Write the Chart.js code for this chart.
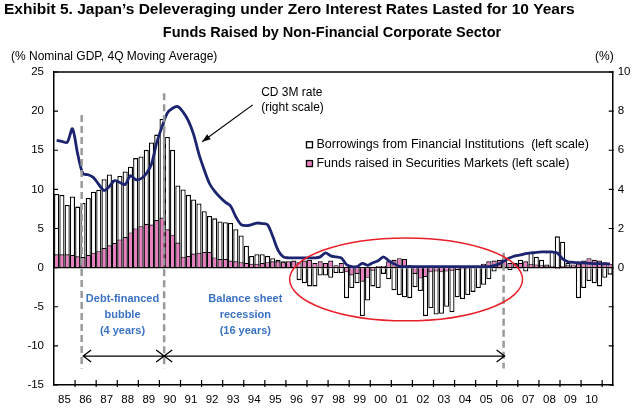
<!DOCTYPE html>
<html lang="en">
<head>
  <meta charset="UTF-8">
  <title>Japan's Deleveraging under Zero Interest Rates</title>
  <script src="https://cdn.jsdelivr.net/npm/chart.js"></script>
  <style>
    body { margin: 0; background: #fff; }
    #wrap { width: 640px; height: 414px; position: relative; }
  </style>
</head>
<body>
  <div id="wrap"><canvas id="myChart"></canvas></div>

  <script>
    // tick labels along the bottom (one per year, 1985..2010)
    const yearLabels = ['85','86','87','88','89','90','91','92','93','94','95','96','97',
                        '98','99','00','01','02','03','04','05','06','07','08','09','10']

    // quarterly, 1985Q1 .. 2011Q2, % of nominal GDP (left scale)
    const borrowings = [
      9.4, 9.3, 8.0, 9.1,   7.8, 8.25, 8.9, 9.7,   9.95, 11.3, 11.9, 11.2,   11.7, 12.3, 12.9, 14.0,
      14.2, 15.05, 16.0, 17.0,   19.0, 16.7, 15.05, 10.5,   10.0, 9.3, 8.7, 8.2,   7.2, 6.6, 6.3, 5.9,
      5.8, 5.7, 4.9, 4.1,   2.8, 1.5, 1.7, 1.7,   1.5, 1.2, 1.0, 0.8,   0.5, 0.8, -1.6, -2.0,
      -2.4, -2.4, -1.0, -1.0,   -1.3, -0.7, -0.7, -3.9,   -2.6, -2.0, -6.2, -4.2,   -2.4, -2.6, -0.8, -1.5,
      -2.9, -3.5, -3.8, -3.9,   -2.5, -3.0, -6.2, -5.2,   -6.0, -5.9, -5.0, -5.7,   -3.8, -4.0, -3.5, -3.1,
      -2.6, -2.2, -1.5, -0.5,   0.3, 0.5, -0.3, 0.6,   1.0, -0.5, 1.9, 1.4,   1.0, 0.4, 2.1, 4.0,
      3.3, 0.6, 0.2, -3.9,   -2.6, -1.7, -2.0, -2.4,   -1.3, -0.9
    ]
    const securities = [
      1.7, 1.7, 1.7, 1.6,   1.45, 1.35, 1.6, 1.9,   2.1, 2.5, 2.85, 3.15,   3.6, 3.9, 4.5, 5.0,
      5.3, 5.6, 5.5, 6.1,   6.4, 4.9, 4.2, 3.2,   1.4, 1.5, 1.8, 1.9,   2.0, 2.0, 1.3, 1.1,
      1.1, 0.9, 0.8, 0.7,   0.6, 0.5, 0.5, 0.6,   0.7, 0.8, 0.8, 0.7,   0.8, 0.9, 0.7, 0.9,
      1.0, 0.6, 0.8, 0.6,   0.9, 0.3, 0.6, -0.6,   -1.0, -0.8, -1.8, -1.3,   -0.4, 0.2, 0.2, 0.8,
      1.0, 1.2, 1.1, 0.3,   -0.8, -1.4, -1.2, -0.6,   -0.5, -0.6, -0.5, -0.4,   -0.3, -0.2, -0.2, -0.1,
      0.2, 0.5, 0.8, 0.9,   1.0, 1.2, 0.6, 0.5,   0.6, 0.8, 0.5, 0.4,   0.3, 0.2, 0.2, -0.2,
      0.2, 0.3, 0.4, 0.5,   0.9, 1.2, 1.0, 0.9,   0.7, 0.5
    ]
    // CD 3M rate, % (right scale)
    const cdRate = [
      6.5, 6.45, 6.4, 7.1,   5.8, 4.8, 4.75, 4.6,   4.25, 3.95, 4.15, 4.45,   4.35, 4.25, 4.7, 4.5,
      4.55, 4.8, 5.3, 6.4,   7.2, 7.9, 8.15, 8.23,   7.95, 7.5, 6.8, 5.8,   5.0, 4.3, 3.9, 3.6,
      3.35, 3.15, 2.6, 2.2,   2.15, 2.2, 2.28, 2.25,   2.2, 1.6, 0.9, 0.55,   0.5, 0.5, 0.5, 0.5,
      0.5, 0.5, 0.55, 0.75,   0.6, 0.55, 0.5, 0.15,   0.05, 0.05, 0.22, 0.12,   0.25, 0.35, 0.55, 0.35,
      0.2, 0.07, 0.05, 0.05,   0.05, 0.05, 0.05, 0.05,   0.05, 0.05, 0.05, 0.05,   0.05, 0.05, 0.05, 0.05,
      0.05, 0.05, 0.05, 0.1,   0.2, 0.35, 0.5, 0.6,   0.65, 0.72, 0.75, 0.78,   0.8, 0.8, 0.8, 0.75,
      0.45, 0.3, 0.27, 0.25,   0.24, 0.22, 0.2, 0.2,   0.19, 0.19
    ]

    // annotation anchors, in quarter index / left-scale units
    const dashedAt = [4.75, 20.4, 84.8]
    const dashedTop = [19.5, 22.3, 1.9]
    const dashedBottom = -12.9
    const arrowLevel = -11.3
    const ellipseBox = { x0: 44.2, x1: 88.4, y0: 3.8, y1: -6.8 }

    const quarters = []
    for (let y = 1985; quarters.length < borrowings.length; y++) {
      for (let q = 1; q <= 4 && quarters.length < borrowings.length; q++) quarters.push(y + 'Q' + q)
    }

    const FONT = '"Liberation Sans", Arial, sans-serif'

    const decorations = {
      id: 'decorations',
      afterDatasetsDraw(chart) {
        const { ctx, chartArea: a, scales } = chart
        const px = i => scales.x.getPixelForValue(i)
        const py = v => scales.y.getPixelForValue(v)
        ctx.save()

        // top frame line and inward tick marks
        ctx.strokeStyle = '#000'
        ctx.lineWidth = 1.5
        ctx.beginPath()
        ctx.moveTo(a.left, a.top)
        ctx.lineTo(a.right, a.top)
        ctx.stroke()
        ctx.lineWidth = 1.2
        ctx.beginPath()
        for (let i = 4; i < quarters.length; i += 4) {
          const tx = px(i - 0.5)
          ctx.moveTo(tx, a.bottom + 2); ctx.lineTo(tx, a.bottom - 5)
        }
        scales.y.ticks.forEach(t => {
          const ty = py(t.value)
          ctx.moveTo(a.left - 1, ty); ctx.lineTo(a.left + 4, ty)
        })
        scales.y2.ticks.forEach(t => {
          const ty = scales.y2.getPixelForValue(t.value)
          ctx.moveTo(a.right + 1, ty); ctx.lineTo(a.right - 4, ty)
        })
        ctx.stroke()

        // dashed period markers
        ctx.strokeStyle = '#999'
        ctx.lineWidth = 2.5
        ctx.setLineDash([7, 4])
        dashedAt.forEach((i, k) => {
          ctx.beginPath()
          ctx.moveTo(px(i), py(dashedTop[k]))
          ctx.lineTo(px(i), py(dashedBottom))
          ctx.stroke()
        })
        ctx.setLineDash([])

        // period arrows
        const ay = py(arrowLevel)
        const x1 = px(dashedAt[0]) + 1.5, x2 = px(dashedAt[1]), x3 = px(dashedAt[2]) + 1
        ctx.strokeStyle = '#000'
        ctx.lineWidth = 1.3
        ctx.beginPath()
        ctx.moveTo(x1, ay); ctx.lineTo(x3, ay)
        ctx.moveTo(x1 + 8, ay - 6); ctx.lineTo(x1, ay); ctx.lineTo(x1 + 8, ay + 6)
        ctx.moveTo(x2 - 8, ay - 6); ctx.lineTo(x2 + 8, ay + 6)
        ctx.moveTo(x2 - 8, ay + 6); ctx.lineTo(x2 + 8, ay - 6)
        ctx.moveTo(x3 - 8, ay - 6); ctx.lineTo(x3, ay); ctx.lineTo(x3 - 8, ay + 6)
        ctx.stroke()

        // red ellipse
        const ex0 = px(ellipseBox.x0), ex1 = px(ellipseBox.x1)
        const ey0 = py(ellipseBox.y0), ey1 = py(ellipseBox.y1)
        ctx.strokeStyle = '#e8202a'
        ctx.lineWidth = 1.5
        ctx.beginPath()
        ctx.ellipse((ex0 + ex1) / 2, (ey0 + ey1) / 2, (ex1 - ex0) / 2, (ey1 - ey0) / 2, 0, 0, Math.PI * 2)
        ctx.stroke()

        // blue period labels
        ctx.fillStyle = '#3a72c4'
        ctx.font = 'bold 11px ' + FONT
        ctx.textAlign = 'center'
        ctx.textBaseline = 'middle'
        ;['Debt-financed', 'bubble', '(4 years)'].forEach((t, k) => ctx.fillText(t, px(12.5), py(-4.0) + k * 16))
        ;['Balance sheet', 'recession', '(16 years)'].forEach((t, k) => ctx.fillText(t, px(35.8), py(-4.0) + k * 16))

        // CD rate callout
        ctx.fillStyle = '#000'
        ctx.strokeStyle = '#000'
        ctx.font = '12px ' + FONT
        ctx.textAlign = 'left'
        ctx.fillText('CD 3M rate', px(38.8), py(22.4))
        ctx.fillText('(right scale)', px(38.8), py(20.5))
        const sx = px(37.2), sy = py(20.8), tx = px(27.6), ty = py(16.1)
        ctx.lineWidth = 1.2
        ctx.beginPath()
        ctx.moveTo(sx, sy); ctx.lineTo(tx, ty)
        ctx.stroke()
        const ang = Math.atan2(ty - sy, tx - sx)
        ctx.beginPath()
        ctx.moveTo(tx, ty)
        ctx.lineTo(tx - 9 * Math.cos(ang - 0.35), ty - 9 * Math.sin(ang - 0.35))
        ctx.lineTo(tx - 9 * Math.cos(ang + 0.35), ty - 9 * Math.sin(ang + 0.35))
        ctx.closePath()
        ctx.fill()

        // legend
        const legend = [
          ['Borrowings from Financial Institutions  (left scale)', '#fff', 15.7],
          ['Funds raised in Securities Markets (left scale)', '#e77fc0', 13.3]
        ]
        ctx.font = '12.5px ' + FONT
        legend.forEach(([text, fill, v]) => {
          const lx = px(47.4), ly = py(v)
          ctx.fillStyle = fill
          ctx.fillRect(lx, ly - 3, 6, 6)
          ctx.strokeStyle = '#000'
          ctx.lineWidth = 1.3
          ctx.strokeRect(lx, ly - 3, 6, 6)
          ctx.fillStyle = '#000'
          ctx.fillText(text, lx + 10, ly)
        })

        // titles and unit labels
        ctx.font = 'bold 15.5px ' + FONT
        ctx.fillText('Exhibit 5. Japan\u2019s Deleveraging under Zero Interest Rates Lasted for 10 Years', 4, 10)
        ctx.textAlign = 'center'
        ctx.font = 'bold 14.5px ' + FONT
        ctx.fillText('Funds Raised by Non-Financial Corporate Sector', 332, 33)
        ctx.font = '12px ' + FONT
        ctx.textAlign = 'left'
        ctx.fillText('(% Nominal GDP, 4Q Moving Average)', 11, 57)
        ctx.fillText('(%)', 595, 57)

        ctx.restore()
      }
    }

    const ctx = document.getElementById('myChart').getContext('2d')
    const myChart = new Chart(ctx, {
      data: {
        labels: quarters,
        datasets: [
          {
            type: 'line',
            label: 'CD 3M rate (right scale)',
            data: cdRate,
            yAxisID: 'y2',
            borderColor: '#1c2470',
            borderWidth: 2.8,
            pointRadius: 0,
            tension: 0.3,
            order: 0
          },
          {
            type: 'bar',
            label: 'Funds raised in Securities Markets (left scale)',
            data: securities,
            yAxisID: 'y',
            backgroundColor: '#e77fc0',
            borderColor: '#000',
            borderWidth: 1.1,
            grouped: false,
            barPercentage: 0.97,
            categoryPercentage: 1,
            order: 1
          },
          {
            type: 'bar',
            label: 'Borrowings from Financial Institutions (left scale)',
            data: borrowings,
            yAxisID: 'y',
            backgroundColor: '#fff',
            borderColor: '#000',
            borderWidth: 1.3,
            grouped: false,
            barPercentage: 0.97,
            categoryPercentage: 1,
            order: 2
          }
        ]
      },
      options: {
        responsive: true,
        maintainAspectRatio: false,
        animation: false,
        layout: { padding: { top: 72, left: 0, right: 0, bottom: 0 } },
        plugins: { legend: { display: false }, tooltip: { enabled: false } },
        scales: {
          x: {
            type: 'category',
            offset: true,
            grid: { display: false, drawTicks: false },
            border: { display: true, color: '#000', width: 1.5 },
            ticks: {
              autoSkip: false,
              maxRotation: 0,
              labelOffset: 2.6,
              padding: 8,
              color: '#000',
              font: { family: FONT, size: 11.5 },
              callback: (v, i) => (i % 4 === 1 && yearLabels[(i - 1) / 4]) || ''
            },
            afterFit: s => { s.height = 29 }
          },
          y: {
            position: 'left',
            min: -15,
            max: 25,
            ticks: { stepSize: 5, color: '#000', padding: 10, font: { family: FONT, size: 11.5 } },
            grid: {
              color: c => (c.tick && c.tick.value === 0 ? '#000' : 'rgba(0,0,0,0)'),
              lineWidth: 1.2,
              drawTicks: false
            },
            border: { color: '#000', width: 1.5 },
            afterFit: s => { s.width = 54 }
          },
          y2: {
            position: 'right',
            min: -6,
            max: 10,
            ticks: {
              stepSize: 2,
              color: '#000',
              padding: 5,
              font: { family: FONT, size: 11.5 },
              callback: v => (v >= 0 ? v : '')
            },
            grid: { drawOnChartArea: false, drawTicks: false },
            border: { color: '#000', width: 1.5 },
            afterFit: s => { s.width = 27.3 }
          }
        }
      },
      plugins: [decorations]
    })
  </script>
</body>
</html>
